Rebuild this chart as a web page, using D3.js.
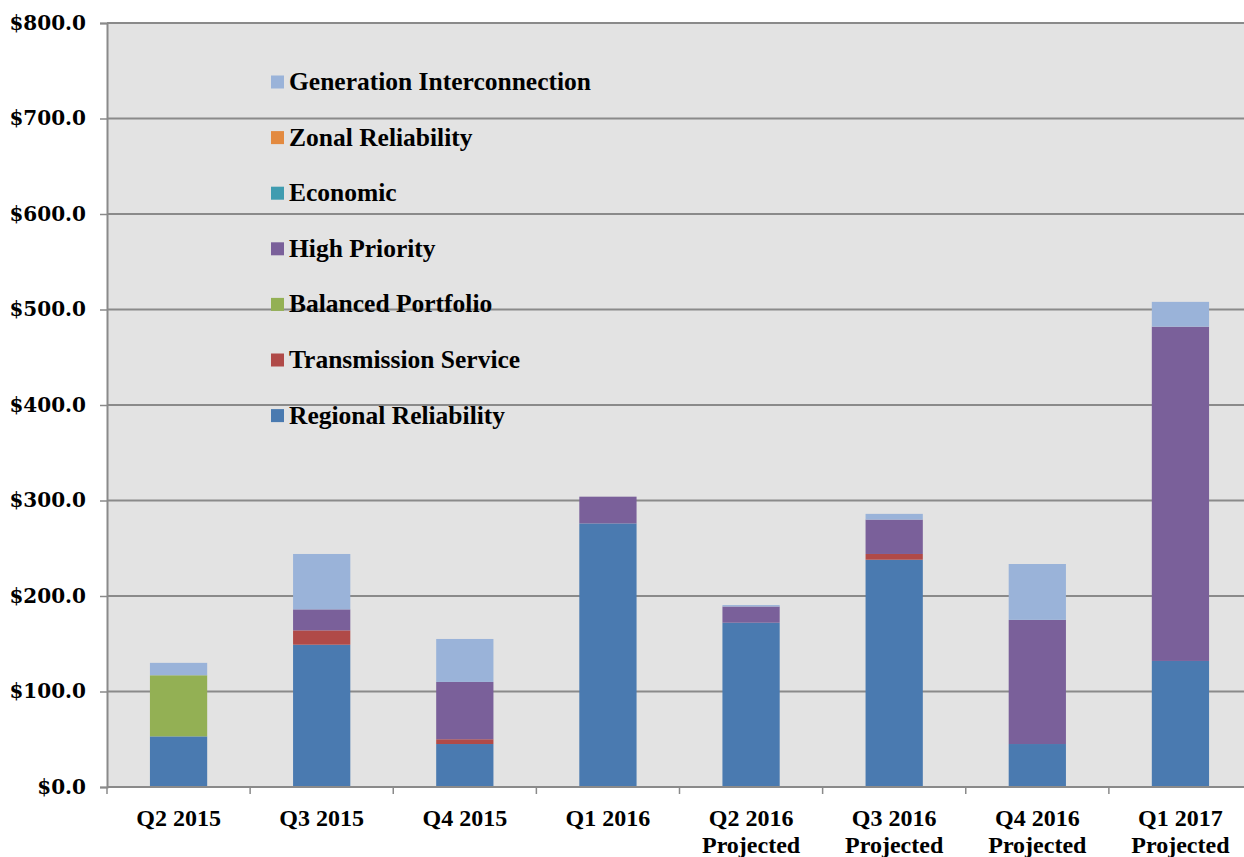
<!DOCTYPE html>
<html>
<head>
<meta charset="utf-8">
<title>Transmission projects by quarter</title>
<script src="https://d3js.org/d3.v7.min.js"></script>
<style>
  body { margin: 0; background: #fff; }
  .ylab text { font-family: 'DejaVu Serif', serif; font-weight: bold; font-size: 20px; fill: #000; }
  .xlab text { font-family: 'Liberation Serif', serif; font-weight: bold; font-size: 24px; fill: #000; }
  .legend text { font-family: 'Liberation Serif', serif; font-weight: bold; font-size: 25.5px; fill: #000; }
</style>
</head>
<body>
<div id="chart"></div>
<script>
// quarters (second line of label is "Projected" for forecasts)
var quarters = ["Q2 2015", "Q3 2015", "Q4 2015", "Q1 2016", "Q2 2016", "Q3 2016", "Q4 2016", "Q1 2017"];
var projected = [false, false, false, false, true, true, true, true];

// stacking order bottom -> top
var seriesNames = ["Regional Reliability", "Transmission Service", "Balanced Portfolio", "High Priority", "Economic", "Zonal Reliability", "Generation Interconnection"];
var seriesColors = ["#4a7ab0", "#b04a48", "#93b054", "#7a609a", "#3f9cb0", "#e38a40", "#9ab3d9"];

// $ millions
var regional     = [53, 149, 45, 276, 172, 238, 45, 132];
var transmission = [0, 15, 5, 0, 0, 6, 0, 0];
var balanced     = [64, 0, 0, 0, 0, 0, 0, 0];
var highPriority = [0, 22, 60, 28, 17, 36, 130, 350];
var economic     = [0, 0, 0, 0, 0, 0, 0, 0];
var zonal        = [0, 0, 0, 0, 0, 0, 0, 0];
var genInter     = [13, 58, 45, 0, 1.5, 6, 58.5, 26];

var yTicks = [0, 100, 200, 300, 400, 500, 600, 700, 800];

var width = 1244, height = 857;
var margin = {left: 107, top: 23, right: -8, bottom: 70};

var table = quarters.map(function(q, i) {
  return {
    q: q,
    "Regional Reliability": regional[i],
    "Transmission Service": transmission[i],
    "Balanced Portfolio": balanced[i],
    "High Priority": highPriority[i],
    "Economic": economic[i],
    "Zonal Reliability": zonal[i],
    "Generation Interconnection": genInter[i]
  };
});

var svg = d3.select("#chart").append("svg")
    .attr("width", width)
    .attr("height", height);

var x = d3.scaleBand()
    .domain(quarters)
    .range([margin.left, width - margin.right])
    .paddingInner(0.6)
    .paddingOuter(0.3);

var y = d3.scaleLinear()
    .domain([0, 800])
    .range([height - margin.bottom, margin.top]);

// plot background
svg.append("rect")
    .attr("x", margin.left)
    .attr("y", y(800))
    .attr("width", width - margin.right - margin.left)
    .attr("height", y(0) - y(800))
    .attr("fill", "#e3e3e3");

// gridlines
svg.append("g")
  .selectAll("line")
  .data(yTicks.slice(1))
  .enter().append("line")
    .attr("x1", margin.left)
    .attr("x2", width)
    .attr("y1", function(d) { return y(d); })
    .attr("y2", function(d) { return y(d); })
    .attr("stroke", "#8a8a8a")
    .attr("stroke-width", 2);

// stacked bars
var stack = d3.stack().keys(seriesNames);
var layers = stack(table);
var color = d3.scaleOrdinal().domain(seriesNames).range(seriesColors);

svg.append("g").selectAll("g")
    .data(layers)
  .enter().append("g")
    .attr("fill", function(d) { return color(d.key); })
  .selectAll("rect")
    .data(function(d) { return d; })
  .enter().append("rect")
    .attr("x", function(d) { return x(d.data.q); })
    .attr("width", x.bandwidth())
    .attr("y", function(d) { return y(d[1]); })
    .attr("height", function(d) { return y(d[0]) - y(d[1]); });

// y axis
var yAxis = svg.append("g")
    .attr("class", "ylab")
    .attr("transform", "translate(" + margin.left + ",0)")
    .call(d3.axisLeft(y).tickValues(yTicks).tickSize(7).tickPadding(14)
      .tickFormat(function(d) { return "$" + d3.format(".1f")(d); }));
yAxis.select(".domain").attr("stroke", "#8a8a8a").attr("stroke-width", 2);
yAxis.selectAll(".tick line").attr("stroke", "#8a8a8a").attr("stroke-width", 1.5);

// x axis
var step = x.step();
var bounds = d3.range(quarters.length + 1).map(function(i) { return margin.left + i * step; });
svg.append("line")
    .attr("x1", margin.left).attr("x2", width)
    .attr("y1", y(0)).attr("y2", y(0))
    .attr("stroke", "#8a8a8a").attr("stroke-width", 2);
svg.append("g").selectAll("line")
    .data(bounds)
  .enter().append("line")
    .attr("x1", function(d) { return d; })
    .attr("x2", function(d) { return d; })
    .attr("y1", y(0))
    .attr("y2", y(0) + 7)
    .attr("stroke", "#8a8a8a").attr("stroke-width", 1.5);

var xl = svg.append("g").attr("class", "xlab");
xl.selectAll("text.q")
    .data(quarters)
  .enter().append("text")
    .attr("class", "q")
    .attr("x", function(d) { return x(d) + x.bandwidth() / 2; })
    .attr("y", y(0) + 39)
    .attr("text-anchor", "middle")
    .text(function(d) { return d; });
xl.selectAll("text.p")
    .data(quarters.filter(function(d, i) { return projected[i]; }))
  .enter().append("text")
    .attr("class", "p")
    .attr("x", function(d) { return x(d) + x.bandwidth() / 2; })
    .attr("y", y(0) + 66)
    .attr("text-anchor", "middle")
    .text("Projected");

// legend, top entry = last series
var legendItems = seriesNames.slice().reverse();
var lg = svg.append("g").attr("class", "legend");
var item = lg.selectAll("g")
    .data(legendItems)
  .enter().append("g")
    .attr("transform", function(d, i) { return "translate(271," + (82 + i * 55.6) + ")"; });
item.append("rect")
    .attr("x", 0).attr("y", -6.5)
    .attr("width", 13).attr("height", 13)
    .attr("fill", function(d) { return color(d); });
item.append("text")
    .attr("x", 18)
    .attr("y", 8)
    .text(function(d) { return d; });
</script>
</body>
</html>
